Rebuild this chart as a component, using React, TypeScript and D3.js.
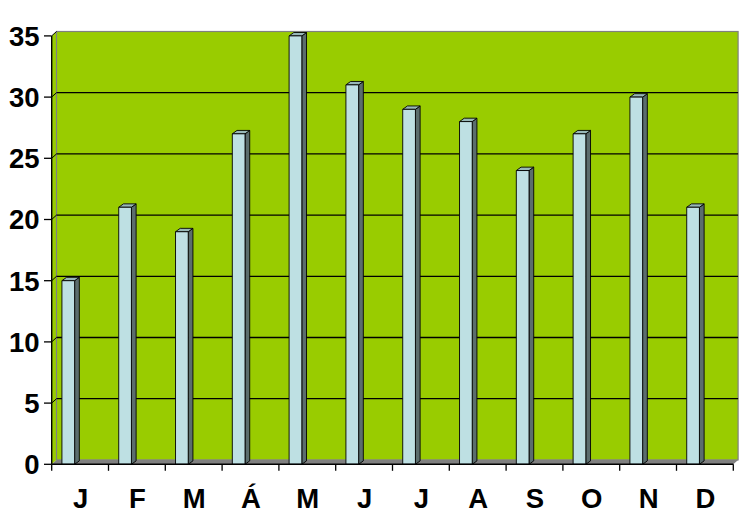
import React from "react";
import * as d3 from "d3";

const months = ["J", "F", "M", "Á", "M", "J", "J", "A", "S", "O", "N", "D"];
const values = [15, 21, 19, 27, 35, 31, 29, 28, 24, 27, 30, 21];
const yTicks = [0, 5, 10, 15, 20, 25, 30, 35];

const W = 746;
const H = 531;
const DX = 4.8; // wall depth
const DY = 4.4;
const BDX = 4.7; // bar depth
const BDY = 3.4;

export default function App() {
  const x = d3.scaleBand<number>().domain(d3.range(months.length)).range([51.7, 733.3]).padding(0);
  const y = d3.scaleLinear().domain([0, 35]).range([464.3, 35.9]);
  const bw = x.bandwidth();
  const barW = 12.7;
  const barOff = bw * 0.18;
  const x0 = x.range()[0];
  const x1 = x.range()[1];
  const yb = y(0);
  const yt = y(35);

  return (
    <svg
      width={W}
      height={H}
      style={{ position: "absolute", left: 0, top: 0, background: "#fff" }}
      fontFamily="Arial, 'Liberation Sans', sans-serif"
    >
      {/* side wall */}
      <polygon
        points={`${x0},${yb} ${x0 + DX},${yb - DY} ${x0 + DX},${yt - DY} ${x0},${yt}`}
        fill="#99CC00"
      />
      {/* back wall */}
      <rect x={x0 + DX} y={yt - DY} width={x1 - x0} height={yb - yt} fill="#99CC00" stroke="#808080" strokeWidth={1.2} />
      {/* floor */}
      <polygon
        points={`${x0},${yb} ${x0 + DX},${yb - DY} ${x1 + DX},${yb - DY} ${x1},${yb}`}
        fill="#808080"
      />
      {/* gridlines */}
      {yTicks.filter((t) => t > 0 && t < 35).map((t) => (
        <g key={t}>
          <line x1={x0 + DX} x2={x1 + DX} y1={y(t) - DY} y2={y(t) - DY} stroke="#000" strokeWidth={1.3} />
          <line x1={x0} x2={x0 + DX} y1={y(t)} y2={y(t) - DY} stroke="#000" strokeWidth={1} />
        </g>
      ))}
      {/* bars */}
      {values.map((v, i) => {
        const bx = (x(i) as number) + barOff;
        const top = y(v);
        return (
          <g key={i} stroke="#000" strokeWidth={0.9} strokeLinejoin="round">
            <polygon
              points={`${bx + barW},${yb} ${bx + barW + BDX},${yb - BDY} ${bx + barW + BDX},${top - BDY} ${bx + barW},${top}`}
              fill="#5B6D6D"
            />
            <polygon
              points={`${bx},${top} ${bx + BDX},${top - BDY} ${bx + barW + BDX},${top - BDY} ${bx + barW},${top}`}
              fill="#98B8B8"
            />
            <rect x={bx} y={top} width={barW} height={yb - top} fill="#BEE0E3" />
          </g>
        );
      })}
      {/* axes */}
      <line x1={x0} x2={x0} y1={yt} y2={yb} stroke="#000" strokeWidth={1.4} />
      <line x1={x0} x2={x1} y1={yb} y2={yb} stroke="#000" strokeWidth={1.4} />
      <line x1={x0} x2={x0 + DX} y1={yt} y2={yt - DY} stroke="#000" strokeWidth={1} />
      {yTicks.map((t) => (
        <g key={t}>
          <line x1={44} x2={x0} y1={y(t)} y2={y(t)} stroke="#000" strokeWidth={1.3} />
          <text x={39.5} y={y(t)} dy="0.36em" textAnchor="end" fontSize={27.5} fontWeight="bold" fill="#000">
            {t}
          </text>
        </g>
      ))}
      {d3.range(months.length + 1).map((i) => {
        const tx = x0 + i * bw;
        return <line key={i} x1={tx} x2={tx} y1={yb} y2={yb + 6.5} stroke="#000" strokeWidth={1.3} />;
      })}
      {months.map((m, i) => (
        <text
          key={i}
          x={(x(i) as number) + bw / 2 + 0.5}
          y={508}
          textAnchor="middle"
          fontSize={27.5}
          fontWeight="bold"
          fill="#000"
        >
          {m}
        </text>
      ))}
    </svg>
  );
}
